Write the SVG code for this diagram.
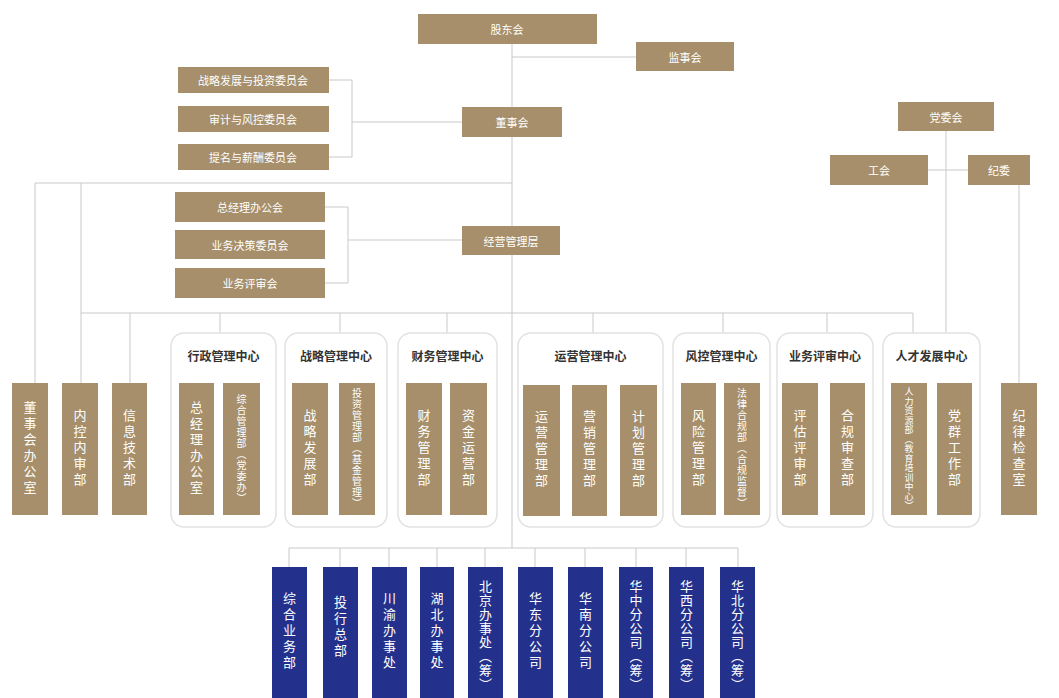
<svg xmlns="http://www.w3.org/2000/svg" width="1059" height="698" viewBox="0 0 1059 698">
<style>
.tan{fill:#a68f6a}
.blue{fill:#24318c}
.lbl{font-family:"Noto Sans CJK SC","Noto Sans",sans-serif;font-size:11px;fill:#fff;text-anchor:middle;dominant-baseline:central}
.vt{font-family:"Noto Sans CJK SC","Noto Sans",sans-serif;font-size:13px;fill:#fff;writing-mode:vertical-rl;text-anchor:middle;letter-spacing:3px}
.vs{font-size:10px;letter-spacing:1px}
.vx{font-size:9px;letter-spacing:0.5px}
.vb{letter-spacing:1px}
.ctr{fill:#fff;stroke:#e2e2e2;stroke-width:1.5}
.ttl{font-family:"Noto Sans CJK SC","Noto Sans",sans-serif;font-size:12px;font-weight:bold;fill:#333;text-anchor:middle;dominant-baseline:central}
.ln{stroke:#c9c9c9;stroke-width:1;fill:none}
</style>
<rect width="1059" height="698" fill="#fff"/>
<g id="connectors" class="ln">
<path d="M512,44 V548"/>
<path d="M512,57 H636"/>
<path d="M329,80 H352 V157 H329 M352,122 H462"/>
<path d="M325,207 H348 V283 H325 M348,240 H462"/>
<path d="M35,183 H512 M35,183 V383 M81,183 V383 M81,313 H913"/>
<path d="M130,313 V383 M220,313 V333 M340,313 V333 M447,313 V333 M593,313 V333 M723,313 V333 M827,313 V333 M913,313 V335"/>
<path d="M946,131 V335 M928,170 H968 M1019,185 V383"/>
<path d="M289,548 H738 M289,548 V567 M340,548 V567 M389,548 V567 M437,548 V567 M485,548 V567 M535,548 V567 M585,548 V567 M636,548 V567 M686,548 V567 M738,548 V567"/>
</g>
<g id="gudonghui"><rect class="tan" x="418" y="14" width="179" height="30"/><text class="lbl" x="507" y="29">股东会</text></g>
<g id="jianshihui"><rect class="tan" x="636" y="42" width="98" height="29"/><text class="lbl" x="685" y="56.5">监事会</text></g>
<g id="zhanlueweiyuanhui"><rect class="tan" x="178" y="67" width="151" height="26"/><text class="lbl" x="253" y="80">战略发展与投资委员会</text></g>
<g id="shenjiweiyuanhui"><rect class="tan" x="178" y="106" width="151" height="26"/><text class="lbl" x="253" y="119">审计与风控委员会</text></g>
<g id="timingweiyuanhui"><rect class="tan" x="178" y="144" width="151" height="26"/><text class="lbl" x="253" y="157">提名与薪酬委员会</text></g>
<g id="dongshihui"><rect class="tan" x="462" y="107" width="100" height="30"/><text class="lbl" x="512" y="122">董事会</text></g>
<g id="zongjinglibangonghui"><rect class="tan" x="175" y="192" width="150" height="30"/><text class="lbl" x="250" y="207">总经理办公会</text></g>
<g id="yewujueceweiyuanhui"><rect class="tan" x="175" y="230" width="150" height="29"/><text class="lbl" x="250" y="244.5">业务决策委员会</text></g>
<g id="yewupingshenhui"><rect class="tan" x="175" y="268" width="150" height="30"/><text class="lbl" x="250" y="283">业务评审会</text></g>
<g id="jingyingguanliceng"><rect class="tan" x="462" y="226" width="98" height="29"/><text class="lbl" x="511" y="240.5">经营管理层</text></g>
<g id="dangweihui"><rect class="tan" x="898" y="102" width="96" height="29"/><text class="lbl" x="946" y="116.5">党委会</text></g>
<g id="gonghui"><rect class="tan" x="830" y="155" width="98" height="30"/><text class="lbl" x="879" y="170">工会</text></g>
<g id="jiwei"><rect class="tan" x="968" y="155" width="62" height="30"/><text class="lbl" x="999" y="170">纪委</text></g>

<g id="dongshihuibangongshi"><rect class="tan" x="12" y="383" width="36" height="132"/><text class="vt" x="30" y="449">董事会办公室</text></g>
<g id="neikongneishenbu"><rect class="tan" x="62" y="383" width="36" height="132"/><text class="vt" x="80" y="449">内控内审部</text></g>
<g id="xinxijishubu"><rect class="tan" x="112" y="383" width="35" height="132"/><text class="vt" x="129.5" y="449">信息技术部</text></g>

<g id="xingzhengguanlizhongxin">
<rect class="ctr" x="171" y="333" width="105" height="194" rx="13"/>
<text class="ttl" x="223.5" y="355">行政管理中心</text>
<rect class="tan" x="179" y="383" width="35" height="132"/><text class="vt" x="196.5" y="449">总经理办公室</text>
<rect class="tan" x="223" y="383" width="37" height="132"/><text class="vt vs" x="241.5" y="449">综合管理部（党委办）</text>
</g>
<g id="zhanlueguanlizhongxin">
<rect class="ctr" x="285" y="333" width="102" height="194" rx="13"/>
<text class="ttl" x="336" y="355">战略管理中心</text>
<rect class="tan" x="292" y="383" width="36" height="132"/><text class="vt" x="310" y="449">战略发展部</text>
<rect class="tan" x="339" y="383" width="36" height="132"/><text class="vt vs" x="357" y="449">投资管理部（基金管理）</text>
</g>
<g id="caiwuguanlizhongxin">
<rect class="ctr" x="398" y="333" width="99" height="194" rx="13"/>
<text class="ttl" x="447.5" y="355">财务管理中心</text>
<rect class="tan" x="406" y="383" width="36" height="132"/><text class="vt" x="424" y="449">财务管理部</text>
<rect class="tan" x="450" y="383" width="37" height="132"/><text class="vt" x="468.5" y="449">资金运营部</text>
</g>
<g id="yunyingguanlizhongxin">
<rect class="ctr" x="518" y="333" width="145" height="194" rx="13"/>
<text class="ttl" x="590.5" y="355">运营管理中心</text>
<rect class="tan" x="523" y="385" width="37" height="131"/><text class="vt" x="541.5" y="450">运营管理部</text>
<rect class="tan" x="572" y="385" width="35" height="131"/><text class="vt" x="589.5" y="450">营销管理部</text>
<rect class="tan" x="620" y="385" width="37" height="131"/><text class="vt" x="638.5" y="450">计划管理部</text>
</g>
<g id="fengkongguanlizhongxin">
<rect class="ctr" x="673" y="333" width="97" height="194" rx="13"/>
<text class="ttl" x="721.5" y="355">风控管理中心</text>
<rect class="tan" x="681" y="383" width="35" height="132"/><text class="vt" x="698.5" y="449">风险管理部</text>
<rect class="tan" x="724" y="383" width="36" height="132"/><text class="vt vs" x="742" y="449">法律合规部（合规监督）</text>
</g>
<g id="yewupingshenzhongxin">
<rect class="ctr" x="777" y="333" width="96" height="194" rx="13"/>
<text class="ttl" x="825" y="355">业务评审中心</text>
<rect class="tan" x="782" y="383" width="36" height="132"/><text class="vt" x="800" y="449">评估评审部</text>
<rect class="tan" x="830" y="383" width="35" height="132"/><text class="vt" x="847.5" y="449">合规审查部</text>
</g>
<g id="rencaifazhanzhongxin">
<rect class="ctr" x="883" y="333" width="97" height="194" rx="13"/>
<text class="ttl" x="931.5" y="355">人才发展中心</text>
<rect class="tan" x="891" y="383" width="36" height="132"/><text class="vt vx" x="909" y="449">人力资源部（教育培训中心）</text>
<rect class="tan" x="937" y="383" width="35" height="132"/><text class="vt" x="954.5" y="449">党群工作部</text>
</g>
<g id="jijianjianchashi"><rect class="tan" x="1001" y="383" width="36" height="132"/><text class="vt" x="1019" y="449">纪律检查室</text></g>

<g id="zongheyewubu"><rect class="blue" x="272" y="567" width="35" height="133"/><text class="vt" x="289.5" y="632">综合业务部</text></g>
<g id="touhangzongbu"><rect class="blue" x="323" y="567" width="35" height="133"/><text class="vt" x="340.5" y="628">投行总部</text></g>
<g id="chuanyubanshichu"><rect class="blue" x="372" y="567" width="35" height="133"/><text class="vt" x="389.5" y="632">川渝办事处</text></g>
<g id="hubeibanshichu"><rect class="blue" x="420" y="567" width="34" height="133"/><text class="vt" x="437" y="632">湖北办事处</text></g>
<g id="beijingbanshichu"><rect class="blue" x="468" y="567" width="35" height="133"/><text class="vt vb" x="485.5" y="636">北京办事处（筹）</text></g>
<g id="huadongfengongsi"><rect class="blue" x="518" y="567" width="35" height="133"/><text class="vt" x="535.5" y="632">华东分公司</text></g>
<g id="huananfengongsi"><rect class="blue" x="568" y="567" width="35" height="133"/><text class="vt" x="585.5" y="632">华南分公司</text></g>
<g id="huazhongfengongsi"><rect class="blue" x="619" y="567" width="34" height="133"/><text class="vt vb" x="636" y="636">华中分公司（筹）</text></g>
<g id="huaxifengongsi"><rect class="blue" x="669" y="567" width="35" height="133"/><text class="vt vb" x="686.5" y="636">华西分公司（筹）</text></g>
<g id="huabeifengongsi"><rect class="blue" x="720" y="567" width="35" height="133"/><text class="vt vb" x="737.5" y="636">华北分公司（筹）</text></g>
</svg>
